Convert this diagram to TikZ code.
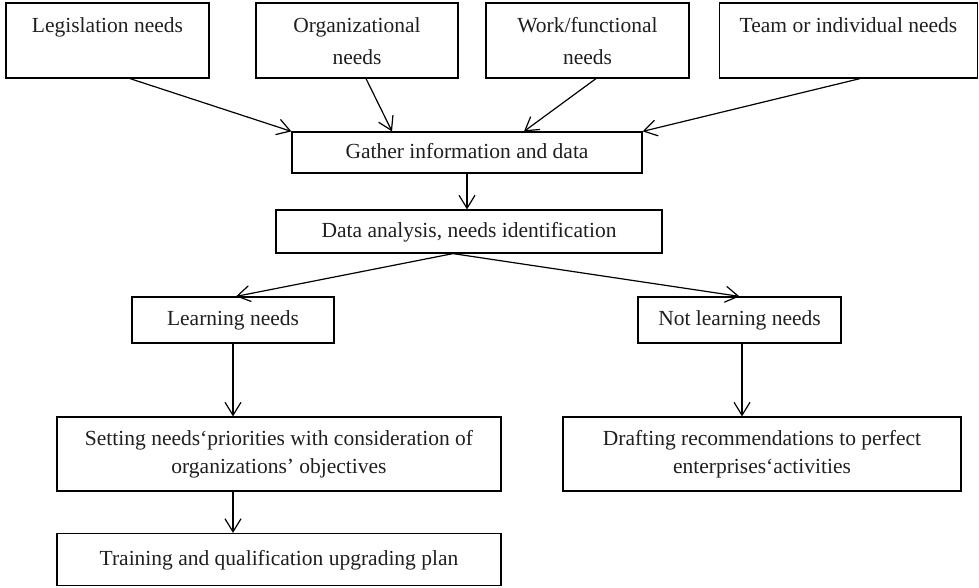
\documentclass[tikz,border=0pt]{standalone}
\usepackage{fontspec}
\setmainfont{Liberation Serif}
\usetikzlibrary{arrows.meta}
\newcommand\topstrut{\rule{0pt}{26.4pt}}
\tikzset{
  box/.style={draw=black, line width=1.2pt, inner sep=0pt, align=center,
    font=\fontsize{21.5}{28}\selectfont, text=black!88},
  topbox/.style={box, font=\fontsize{21.5}{32}\selectfont, minimum height=75},
  conn/.style={line width=1.2pt, -{Straight Barb[length=13pt,width=16pt,line width=1.2pt]}},
}
\begin{document}
\begin{tikzpicture}[x=1pt,y=-1pt]
\useasboundingbox (0,0) rectangle (979,587);
% top row
\node[topbox, minimum width=203] (leg) at (107.5,40.5) {\topstrut Legislation needs\\\strut};
\node[topbox, minimum width=202] (org) at (357,40.5) {\topstrut Organizational\\needs\strut};
\node[topbox, minimum width=203] (work) at (587.5,40.5) {\topstrut Work/functional\\needs\strut};
\node[topbox, minimum width=258] (team) at (848.5,40.5) {\topstrut Team or individual needs\\\strut};
% middle
\node[box, minimum width=350, minimum height=41] (gather) at (467,152.5) {\strut Gather information and data\strut};
\node[box, minimum width=386, minimum height=43] (data) at (469,231.5) {\strut Data analysis, needs identification\strut};
\node[box, minimum width=202, minimum height=46] (learn) at (233,320) {\strut Learning needs\strut};
\node[box, minimum width=203, minimum height=46] (notl) at (739.5,320) {\strut Not learning needs\strut};
% lower
\node[box, minimum width=444, minimum height=74] (set) at (279,454) {\strut Setting needs‘priorities with consideration of\\organizations’ objectives\strut};
\node[box, minimum width=398, minimum height=74] (draft) at (762,454) {\strut Drafting recommendations to perfect\\enterprises‘activities\strut};
\node[box, minimum width=444, minimum height=52] (train) at (279,559.5) {\strut Training and qualification upgrading plan\strut};
% connectors
\draw[conn] ([xshift=22.5]leg.south) -- (gather.north west);
\draw[conn] ([xshift=9]org.south) -- ([xshift=-75]gather.north);
\draw[conn] ([xshift=8.5]work.south) -- ([xshift=57]gather.north);
\draw[conn] ([xshift=11.5]team.south) -- (gather.north east);
\draw[conn] (gather.south) -- (gather.south |- data.north);
\draw[conn] ([xshift=-16]data.south) -- ([xshift=3]learn.north);
\draw[conn] ([xshift=-16]data.south) -- (notl.north);
\draw[conn] (learn.south) -- (learn.south |- set.north);
\draw[conn] ([xshift=2.5]notl.south) -- ([xshift=2.5]notl.south |- draft.north);
\draw[conn] ([xshift=-46]set.south) -- ([xshift=-46]train.north);
\end{tikzpicture}
\end{document}
